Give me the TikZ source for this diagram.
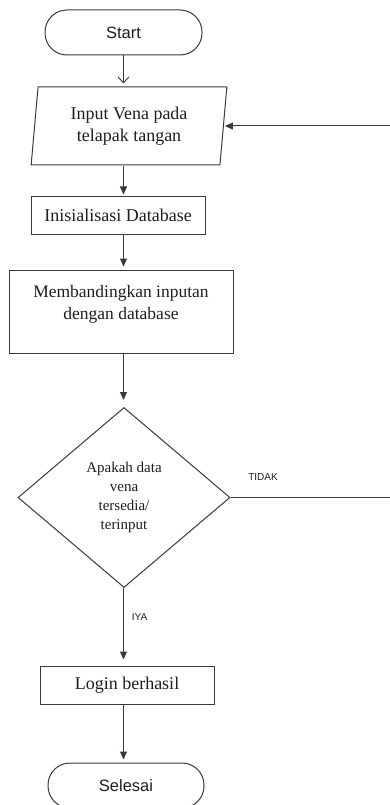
\documentclass[tikz,border=0pt]{standalone}
\usepackage{fontspec}
\setmainfont{Liberation Serif}
\setsansfont{Liberation Sans}
\usetikzlibrary{shapes.geometric,arrows.meta}
\definecolor{linec}{HTML}{3A3A3A}
\definecolor{textc}{HTML}{1E1E1E}
\begin{document}
\begin{tikzpicture}[x=1pt,y=-1pt,
  line/.style={draw=linec, line width=1pt},
  arr/.style={line, -{Triangle[length=8pt,width=7pt]}},
  openarr/.style={line, -{Straight Barb[length=6pt,width=11pt,line width=0.9pt]}},
  term/.style={draw=linec, line width=1pt, rectangle, rounded corners=22pt,
    minimum width=157pt, minimum height=45pt, inner sep=0pt, text=textc,
    font=\sffamily\fontsize{16.5}{19}\selectfont},
  io/.style={draw=linec, line width=1pt, trapezium, trapezium left angle=83.4,
    trapezium right angle=96.6, trapezium stretches=true,
    minimum width=196pt, minimum height=78pt, inner sep=0pt, align=center, text=textc,
    font=\fontsize{18}{22}\selectfont},
  proc/.style={draw=linec, line width=1pt, rectangle, inner sep=0pt, text=textc,
    font=\fontsize{18}{22}\selectfont},
  txt/.style={align=center, inner sep=0pt, text=textc, font=\fontsize{17.5}{22}\selectfont},
  dec/.style={draw=linec, line width=1pt, diamond, aspect=1.18, minimum width=212pt,
    minimum height=180pt, inner sep=0pt, align=center, text=textc,
    font=\fontsize{15}{19}\selectfont},
  lab/.style={inner sep=0pt, text=textc, font=\sffamily\fontsize{10}{12}\selectfont}]
\useasboundingbox (0,0) rectangle (390,805);
\clip (0,0) rectangle (390,805);
\coordinate (ax) at (123.5,0);
\coordinate (fb) at (394,0);

\node[term] (start) at (123.5,32.5) {Start};
\node[io] (in) at (129,126) {Input Vena pada\\telapak tangan};
\node[proc, minimum width=174pt, minimum height=38pt] (init) at (118,215) {Inisialisasi Database};
\node[proc, minimum width=224pt, minimum height=83pt] (memb) at (121,311.5) {};
\node[txt] (membtxt) at (121,304) {Membandingkan inputan\\dengan database};
\node[dec] (dec) at (124,497.5) {Apakah data\\vena\\tersedia/\\terinput};
\node[proc, minimum width=174pt, minimum height=38pt] (login) at (127,685) {Login berhasil};
\node[term, minimum width=156pt] (end) at (126,785.5) {Selesai};

\node[lab] (tidak) at (263,477) {TIDAK};
\node[lab] (iya) at (139.5,617) {IYA};

\draw[openarr, shorten >=3pt] (start.south -| ax) -- (in.north -| ax);
\draw[arr, shorten >=1pt] (in.south -| ax) -- (init.north -| ax);
\draw[arr, shorten >=3pt] (init.south -| ax) -- (memb.north -| ax);
\draw[arr, shorten >=7pt] (memb.south -| ax) -- (dec.north -| ax);
\draw[arr, shorten >=6pt] (dec.south -| ax) -- (login.north -| ax);
\draw[arr, shorten >=3pt] (login.south -| ax) -- (end.north -| ax);
\draw[arr, shorten >=1pt] (dec.east) -- (dec.east -| fb) |- (in.east);
\end{tikzpicture}
\end{document}
